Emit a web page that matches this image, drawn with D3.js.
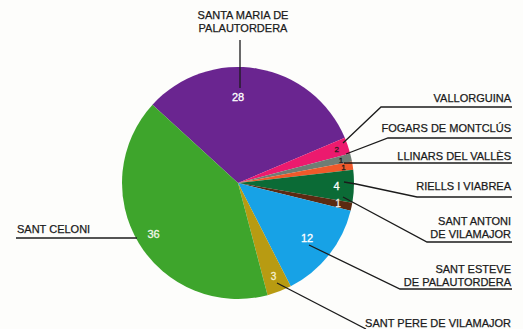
<!DOCTYPE html>
<html>
<head>
<meta charset="utf-8">
<script src="https://cdn.jsdelivr.net/npm/d3@7"></script>
<style>
  html, body { margin: 0; padding: 0; background: #fdfdfb; }
  svg { display: block; }
  text { font-family: "Liberation Sans", Arial, sans-serif; }
</style>
</head>
<body>
<svg id="chart" width="523" height="329"></svg>
<script>
// Municipalities, in clockwise drawing order
const municipalities = [
  "SANTA MARIA DE PALAUTORDERA",
  "VALLORGUINA",
  "FOGARS DE MONTCLÚS",
  "LLINARS DEL VALLÈS",
  "RIELLS I VIABREA",
  "SANT ANTONI DE VILAMAJOR",
  "SANT ESTEVE DE PALAUTORDERA",
  "SANT PERE DE VILAMAJOR",
  "SANT CELONI"
];
const counts = [28, 2, 1, 1, 4, 1, 12, 3, 36];
const sliceColors = ["#6a2590", "#ec1a6e", "#6f7d74", "#f0592a", "#0b6b36", "#5b2a12", "#17a2e6", "#b89b12", "#3ea52c"];
const valueTextColors = ["#fff", "#2a1a1a", "#1a1a1a", "#1a1a1a", "#fff", "#f4f0e8", "#fff", "#f6f0d0", "#f2f6ea"];

// Callout text lines for each municipality
const calloutLines = [
  ["SANTA MARIA DE", "PALAUTORDERA"],
  ["VALLORGUINA"],
  ["FOGARS DE MONTCLÚS"],
  ["LLINARS DEL VALLÈS"],
  ["RIELLS I VIABREA"],
  ["SANT ANTONI", "DE VILAMAJOR"],
  ["SANT ESTEVE", "DE PALAUTORDERA"],
  ["SANT PERE DE VILAMAJOR"],
  ["SANT CELONI"]
];

const svg = d3.select("#chart");
const cx = 238, cy = 183, R = 116;
const startDeg = -47.5;

const pie = d3.pie().sort(null).value(d => d)
  .startAngle(startDeg * Math.PI / 180)
  .endAngle((startDeg + 360) * Math.PI / 180);
const arcs = pie(counts);
const arc = d3.arc().innerRadius(0).outerRadius(R);

const g = svg.append("g").attr("transform", `translate(${cx},${cy})`);
g.selectAll("path.slice").data(arcs).join("path")
  .attr("class", "slice")
  .attr("d", arc)
  .attr("fill", (d, i) => sliceColors[i]);

// Value label placement: radius factor and optional fixed angle (degrees)
const valueLayout = [
  { r: 0.74, angle: 0, size: 11 },
  { r: 0.90, size: 8 },
  { r: 0.91, size: 8 },
  { r: 0.92, size: 8 },
  { r: 0.85, size: 11 },
  { r: 0.88, size: 10 },
  { r: 0.76, size: 11 },
  { r: 0.86, size: 10 },
  { r: 0.85, size: 11 }
];
function valuePos(d, i) {
  const L = valueLayout[i];
  const a = L.angle !== undefined ? L.angle * Math.PI / 180 : (d.startAngle + d.endAngle) / 2;
  return [cx + Math.sin(a) * R * L.r, cy - Math.cos(a) * R * L.r];
}

// Leader lines: anchor near value label, then elbows to the callout text
const leaderLayout = [
  { from: [240, 88], via: [[240, 40]] },
  { from: [343, 143], via: [[381, 107], [512, 107]] },
  { from: [346, 154], via: [[388, 138], [512, 138]] },
  { from: [344, 163], via: [[512, 163]] },
  { from: [344, 182], via: [[356, 184], [417, 197], [512, 197]] },
  { from: [343, 197], via: [[427, 242], [512, 242]] },
  { from: [309, 245], via: [[400, 289], [512, 289]] },
  { from: [277, 283], via: [[366, 329]] },
  { from: [137, 238], via: [[16, 238]] }
];
const line = d3.line();
svg.append("g").selectAll("path").data(leaderLayout).join("path")
  .attr("d", L => line([L.from, ...L.via]))
  .attr("fill", "none")
  .attr("stroke", "#1b1b1b")
  .attr("stroke-width", 1.3);

// Callout text positions: anchor point, text-anchor, baseline of first line
const textLayout = [
  { x: 243, y: 19, anchor: "middle" },
  { x: 511, y: 102, anchor: "end" },
  { x: 511, y: 132, anchor: "end" },
  { x: 511, y: 160, anchor: "end" },
  { x: 511, y: 190, anchor: "end" },
  { x: 511, y: 225, anchor: "end" },
  { x: 511, y: 273, anchor: "end" },
  { x: 511, y: 327, anchor: "end" },
  { x: 17, y: 233, anchor: "start" }
];
const labels = svg.append("g").selectAll("text").data(calloutLines).join("text")
  .attr("text-anchor", (d, i) => textLayout[i].anchor)
  .attr("font-size", 11)
  .attr("fill", "#1a1a1a")
  .attr("stroke", "#1a1a1a")
  .attr("stroke-width", 0.25);
labels.each(function (lines, i) {
  const T = textLayout[i];
  d3.select(this).selectAll("tspan").data(lines).join("tspan")
    .attr("x", T.x)
    .attr("y", (s, k) => T.y + k * 12.5)
    .text(s => s);
});

// Values inside slices
svg.append("g").selectAll("text").data(arcs).join("text")
  .attr("x", (d, i) => valuePos(d, i)[0])
  .attr("y", (d, i) => valuePos(d, i)[1])
  .attr("dy", "0.35em")
  .attr("text-anchor", "middle")
  .attr("font-size", (d, i) => valueLayout[i].size)
  .attr("fill", (d, i) => valueTextColors[i])
  .attr("stroke", (d, i) => valueTextColors[i])
  .attr("stroke-width", 0.3)
  .text(d => d.value);
</script>
</body>
</html>
